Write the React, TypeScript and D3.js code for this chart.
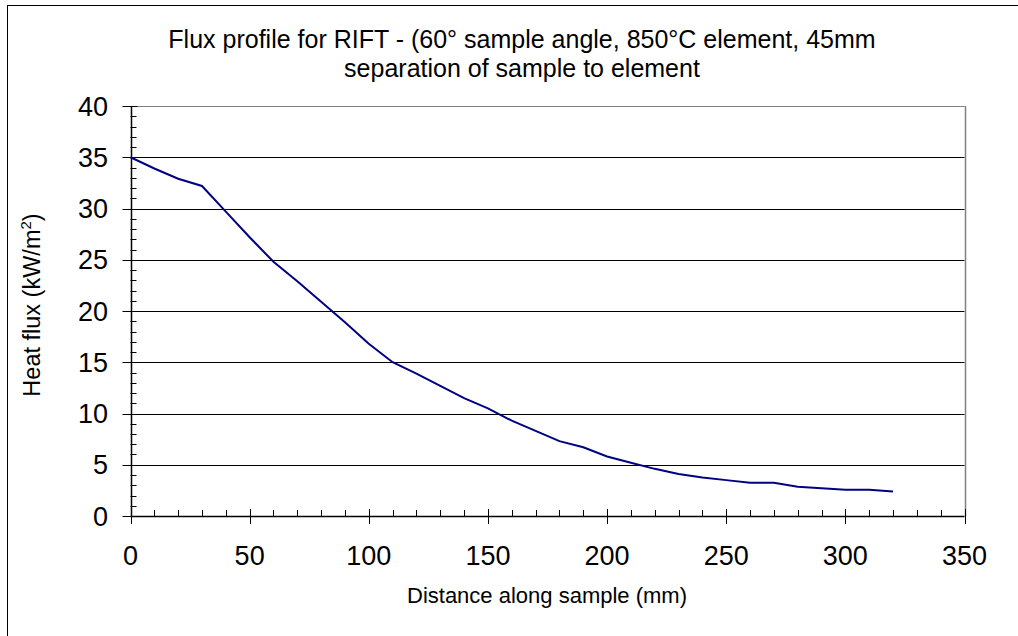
import React from "react";
import * as d3 from "d3";

const distance = [0, 10, 20, 30, 40, 50, 60, 70, 80, 90, 100, 110, 120, 130, 140, 150, 160, 170, 180, 190, 200, 210, 220, 230, 240, 250, 260, 270, 280, 290, 300, 310, 320];
const heatFlux = [35, 33.9, 32.9, 32.2, 29.7, 27.2, 24.8, 22.9, 20.9, 18.9, 16.8, 15.0, 13.9, 12.7, 11.5, 10.5, 9.3, 8.3, 7.3, 6.7, 5.8, 5.2, 4.6, 4.1, 3.75, 3.5, 3.25, 3.25, 2.85, 2.7, 2.55, 2.55, 2.4];
const xTicks = [0, 50, 100, 150, 200, 250, 300, 350];
const yTicks = [0, 5, 10, 15, 20, 25, 30, 35, 40];
const titleLines = ["Flux profile for RIFT - (60° sample angle, 850°C element, 45mm", "separation of sample to element"];
const xTitle = "Distance along sample (mm)";

const FONT = "'Liberation Sans', Arial, sans-serif";

export default function App() {
  const W = 1018, H = 636;
  const x = d3.scaleLinear().domain([0, 350]).range([130.5, 964.5]);
  const y = d3.scaleLinear().domain([0, 40]).range([516, 106]);
  const line = d3.line<number>().x((_, i) => x(distance[i])).y((d) => y(d));
  const xMinor = d3.range(0, 351, 10);
  const yMinor = d3.range(0, 41, 1);
  const x0 = x(0), y0 = y(0);
  return (
    <svg width={W} height={H} style={{ position: "absolute", left: 0, top: 0, background: "#fff" }} fontFamily={FONT}>
      <rect x={0} y={0} width={W} height={H} fill="#fff" />
      <rect x={7.5} y={5.5} width={1030} height={660} fill="none" stroke="#000" strokeWidth={1} />
      {/* gridlines */}
      {yTicks.filter((t) => t > 0).map((t) => (
        <line key={"g" + t} x1={x0} x2={x(350)} y1={Math.round(y(t)) + 0.5} y2={Math.round(y(t)) + 0.5} stroke={t === 40 ? "#808080" : "#000"} strokeWidth={1} />
      ))}
      <line x1={Math.round(x(350)) + 0.5} x2={Math.round(x(350)) + 0.5} y1={y(40)} y2={y0} stroke="#808080" strokeWidth={1.5} />
      {/* minor ticks */}
      {xMinor.map((t) => (
        <line key={"xm" + t} x1={Math.round(x(t)) + 0.5} x2={Math.round(x(t)) + 0.5} y1={y0 - 6} y2={y0} stroke="#000" />
      ))}
      {yMinor.map((t) => (
        <line key={"ym" + t} x1={x0} x2={x0 + 6} y1={Math.round(y(t)) + 0.5} y2={Math.round(y(t)) + 0.5} stroke="#000" />
      ))}
      {/* major ticks */}
      {xTicks.map((t) => (
        <line key={"xM" + t} x1={Math.round(x(t)) + 0.5} x2={Math.round(x(t)) + 0.5} y1={t === 0 ? y0 : y0 - 7} y2={y0 + 8} stroke="#000" />
      ))}
      {yTicks.map((t) => (
        <line key={"yM" + t} x1={x0 - 8} x2={t === 0 ? x0 : x0 + 7} y1={Math.round(y(t)) + 0.5} y2={Math.round(y(t)) + 0.5} stroke="#000" />
      ))}
      {/* axes */}
      <line x1={Math.round(x0) + 0.5} x2={Math.round(x0) + 0.5} y1={y(40)} y2={y0} stroke="#000" strokeWidth={1.5} />
      <line x1={x0} x2={x(350)} y1={Math.round(y0) + 0.5} y2={Math.round(y0) + 0.5} stroke="#000" strokeWidth={1.5} />
      {/* data line */}
      <path d={line(heatFlux) || ""} fill="none" stroke="#000080" strokeWidth={2} />
      {/* tick labels */}
      {xTicks.map((t) => (
        <text key={"xl" + t} x={x(t)} y={565} textAnchor="middle" fontSize={27} fill="#000">{t}</text>
      ))}
      {yTicks.map((t) => (
        <text key={"yl" + t} x={108} y={y(t) + 9.5} textAnchor="end" fontSize={27} fill="#000">{t}</text>
      ))}
      {/* titles */}
      <text x={522} y={48} textAnchor="middle" fontSize={25} fill="#000">{titleLines[0]}</text>
      <text x={522} y={77} textAnchor="middle" fontSize={25} fill="#000">{titleLines[1]}</text>
      <text x={547} y={603} textAnchor="middle" fontSize={22} fill="#000">{xTitle}</text>
      <text transform={`translate(40, 305) rotate(-90)`} textAnchor="middle" fontSize={23.5} fill="#000">
        Heat flux (kW/m<tspan dy={-9} fontSize={15}>2</tspan><tspan dy={9}>)</tspan>
      </text>
    </svg>
  );
}
